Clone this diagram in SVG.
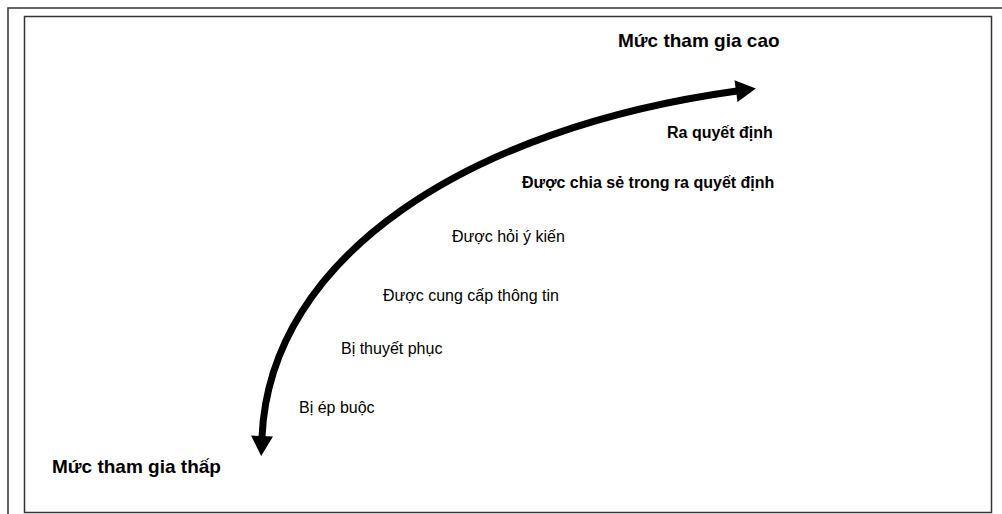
<svg xmlns="http://www.w3.org/2000/svg" width="1002" height="514" viewBox="0 0 1002 514">
<style>
.b{font-family:"Liberation Sans",Arial,sans-serif;font-weight:bold;font-size:16px;fill:#000}
.t{font-family:"Liberation Sans",Arial,sans-serif;font-weight:bold;font-size:19px;fill:#000}
.r{font-family:"Liberation Sans",Arial,sans-serif;font-size:16px;fill:#000}
.frame{fill:none;stroke:#333;stroke-width:1.5}
</style>
<defs>
<marker id="ah" markerUnits="userSpaceOnUse" markerWidth="22" markerHeight="22" viewBox="0 0 20 22" refX="1" refY="11" orient="auto-start-reverse">
<path d="M0,0 L20,11 L0,22 z" fill="#000"/>
</marker>
</defs>
<rect width="1002" height="514" fill="#fff"/>
<g id="frame">
<path class="frame" d="M8,514 V8 H1002"/>
<rect class="frame" x="24.5" y="16.5" width="967" height="496"/>
</g>
<g id="connectors">
<path d="M262,437 C270,255 470,128 737,91" fill="none" stroke="#000" stroke-width="7" marker-start="url(#ah)" marker-end="url(#ah)"/>
</g>
<g id="high"><text class="t" x="618" y="47">Mức tham gia cao</text></g>
<g id="n6"><text class="b" x="667" y="138">Ra quyết định</text></g>
<g id="n5"><text class="b" x="522" y="188">Được chia sẻ trong ra quyết định</text></g>
<g id="n4"><text class="r" x="452" y="242">Được hỏi ý kiến</text></g>
<g id="n3"><text class="r" x="383" y="301">Được cung cấp thông tin</text></g>
<g id="n2"><text class="r" x="341" y="354">Bị thuyết phục</text></g>
<g id="n1"><text class="r" x="299" y="413">Bị ép buộc</text></g>
<g id="low"><text class="t" x="52" y="473">Mức tham gia thấp</text></g>
</svg>
